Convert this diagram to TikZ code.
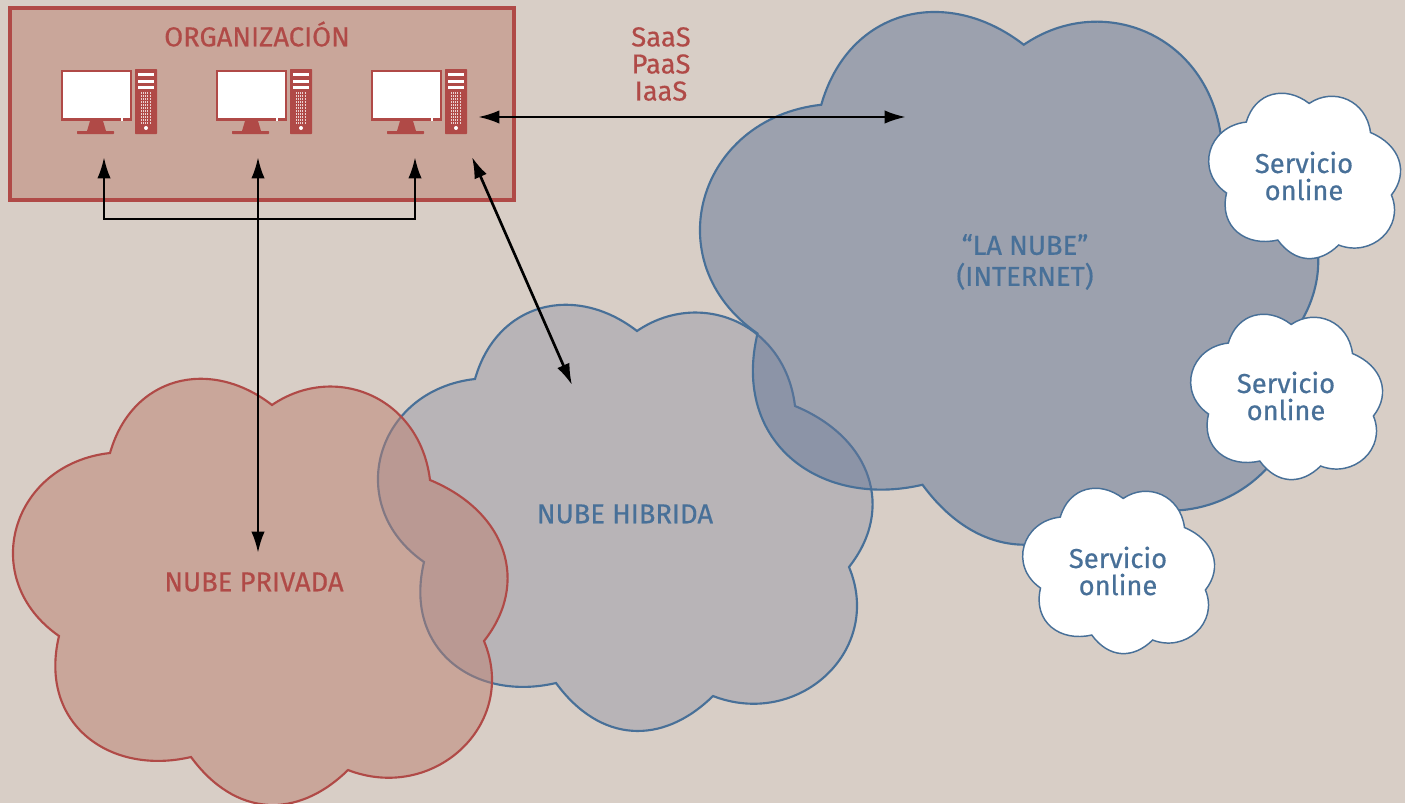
\documentclass[tikz,border=0pt]{standalone}
\usepackage{fontspec}
\setmainfont{Fira Sans}[RawFeature={embolden=0.5}]
\usepackage{tikz}
\usetikzlibrary{arrows.meta}
\usetikzlibrary{positioning}

\definecolor{fondo}{RGB}{216,206,198}
\definecolor{rojo}{RGB}{176,74,71}
\definecolor{azul}{RGB}{72,112,152}
\definecolor{rellenoorg}{RGB}{188,128,112}
\definecolor{rellenohib}{RGB}{154,156,170}
\definecolor{rellenonet}{RGB}{98,118,152}

\newcommand{\nubepath}{(475,379) .. controls (497,302) and (575,283) .. (637,331)
  .. controls (700,288) and (785,323) .. (795,406)
  .. controls (872,438) and (895,509) .. (849,567)
  .. controls (884,651) and (798,729) .. (713,696)
  .. controls (662,746) and (600,743) .. (556,683)
  .. controls (475,702) and (403,650) .. (424,562)
  .. controls (342,505) and (376,390) .. (475,379) -- cycle}

\tikzset{
  nube/.style={line width=1.6pt,line join=miter,fill opacity=0.5},
  servicio/.style={draw=azul,fill=white,line width=1.1pt},
  rotulo/.style={font=\fontsize{20.5}{20.3}\selectfont,align=center,inner sep=0pt},
  doble/.style={{Latex[length=16pt,width=10pt]}-{Latex[length=16pt,width=10pt]},line width=2pt,black},
  pics/equipo/.style={code={
    \fill[rojo] (61,70) rectangle (132,121);
    \fill[white] (63,72) rectangle (130,118);
    \fill[white] (121,118) rectangle (123,121);
    \fill[rojo] (90,121) -- (103,121) -- (106,131) -- (87,131) -- cycle;
    \fill[rojo,rounded corners=0.5pt] (77,131) rectangle (114,134);
    \fill[rojo,rounded corners=0.5pt] (135,69) rectangle (157,134);
    \fill[white] (138,73) rectangle (154,76);
    \fill[white] (138,80) rectangle (154,83);
    \fill[white] (138,86) rectangle (154,89);
    \foreach \y in {93,96,...,123}
      \draw[white,opacity=0.75,line width=0.8pt,dash pattern=on 0.8pt off 0.8pt] (141,\y) -- (151,\y);
    \fill[white] (146,128) circle (2);
  }}
}

\begin{document}
\begin{tikzpicture}[x=0.75pt,y=-0.75pt]
  \useasboundingbox (0,0) rectangle (1405,803);
  \fill[fondo] (0,0) rectangle (1405,803);

  % nubes
  \draw[nube,draw=azul,fill=rellenohib] \nubepath;
  \draw[nube,draw=azul,fill=rellenonet,shift={(227.5,-369)},scale=1.25] \nubepath;
  \draw[nube,draw=rojo,fill=rellenoorg,shift={(-365,74)}] \nubepath;
  \draw[servicio,shift={(1062,-25)},scale=0.388] \nubepath;
  \draw[servicio,shift={(1044,196)},scale=0.388] \nubepath;
  \draw[servicio,shift={(876,370)},scale=0.388] \nubepath;

  % organizacion
  \draw[draw=rojo,fill=rellenoorg,fill opacity=0.5,line width=2.3pt] (10,8) rectangle (514,200);
  \foreach \dx in {0,155,310}
    \pic at (\dx,0) {equipo};

  % textos
  \node[rotulo,text=rojo] (org) at (257,34) {ORGANIZACIÓN};
  \node[rotulo,text=rojo] (xaas) at (661,64) {SaaS\\PaaS\\IaaS};
  \node[rotulo,text=azul] (net) at (1025,262) {“LA NUBE”\\[3pt](INTERNET)};
  \node[rotulo,text=azul] (hib) at (625,514) {NUBE HIBRIDA};
  \node[rotulo,text=rojo] (pri) at (254,582) {NUBE PRIVADA};
  \node[rotulo,text=azul] (s_0) at (1304,176) {Servicio\\online};
  \node[rotulo,text=azul] (s_1) at (1286,396) {Servicio\\online};
  \node[rotulo,text=azul] (s_2) at (1118,571) {Servicio\\online};

  % flechas
  \coordinate (e_0) at (104,157);
  \coordinate (e_1) at (258,157);
  \coordinate (e_2) at (415,157);
  \coordinate (e_3) at (472,157);
  \coordinate (e_4) at (478,117);
  \coordinate (m_0) at (104,219);
  \coordinate (p_0) at (258,553);
  \coordinate (h_0) at (572,385);
  \coordinate (n_0) at (906,117);
  \draw[doble] (e_0) -- (m_0) -- (m_0 -| e_2) -- (e_2);
  \draw[doble] (e_1) -- (p_0);
  \draw[doble] (e_3) -- (h_0);
  \draw[doble] (e_4) -- (n_0);
\end{tikzpicture}
\end{document}
